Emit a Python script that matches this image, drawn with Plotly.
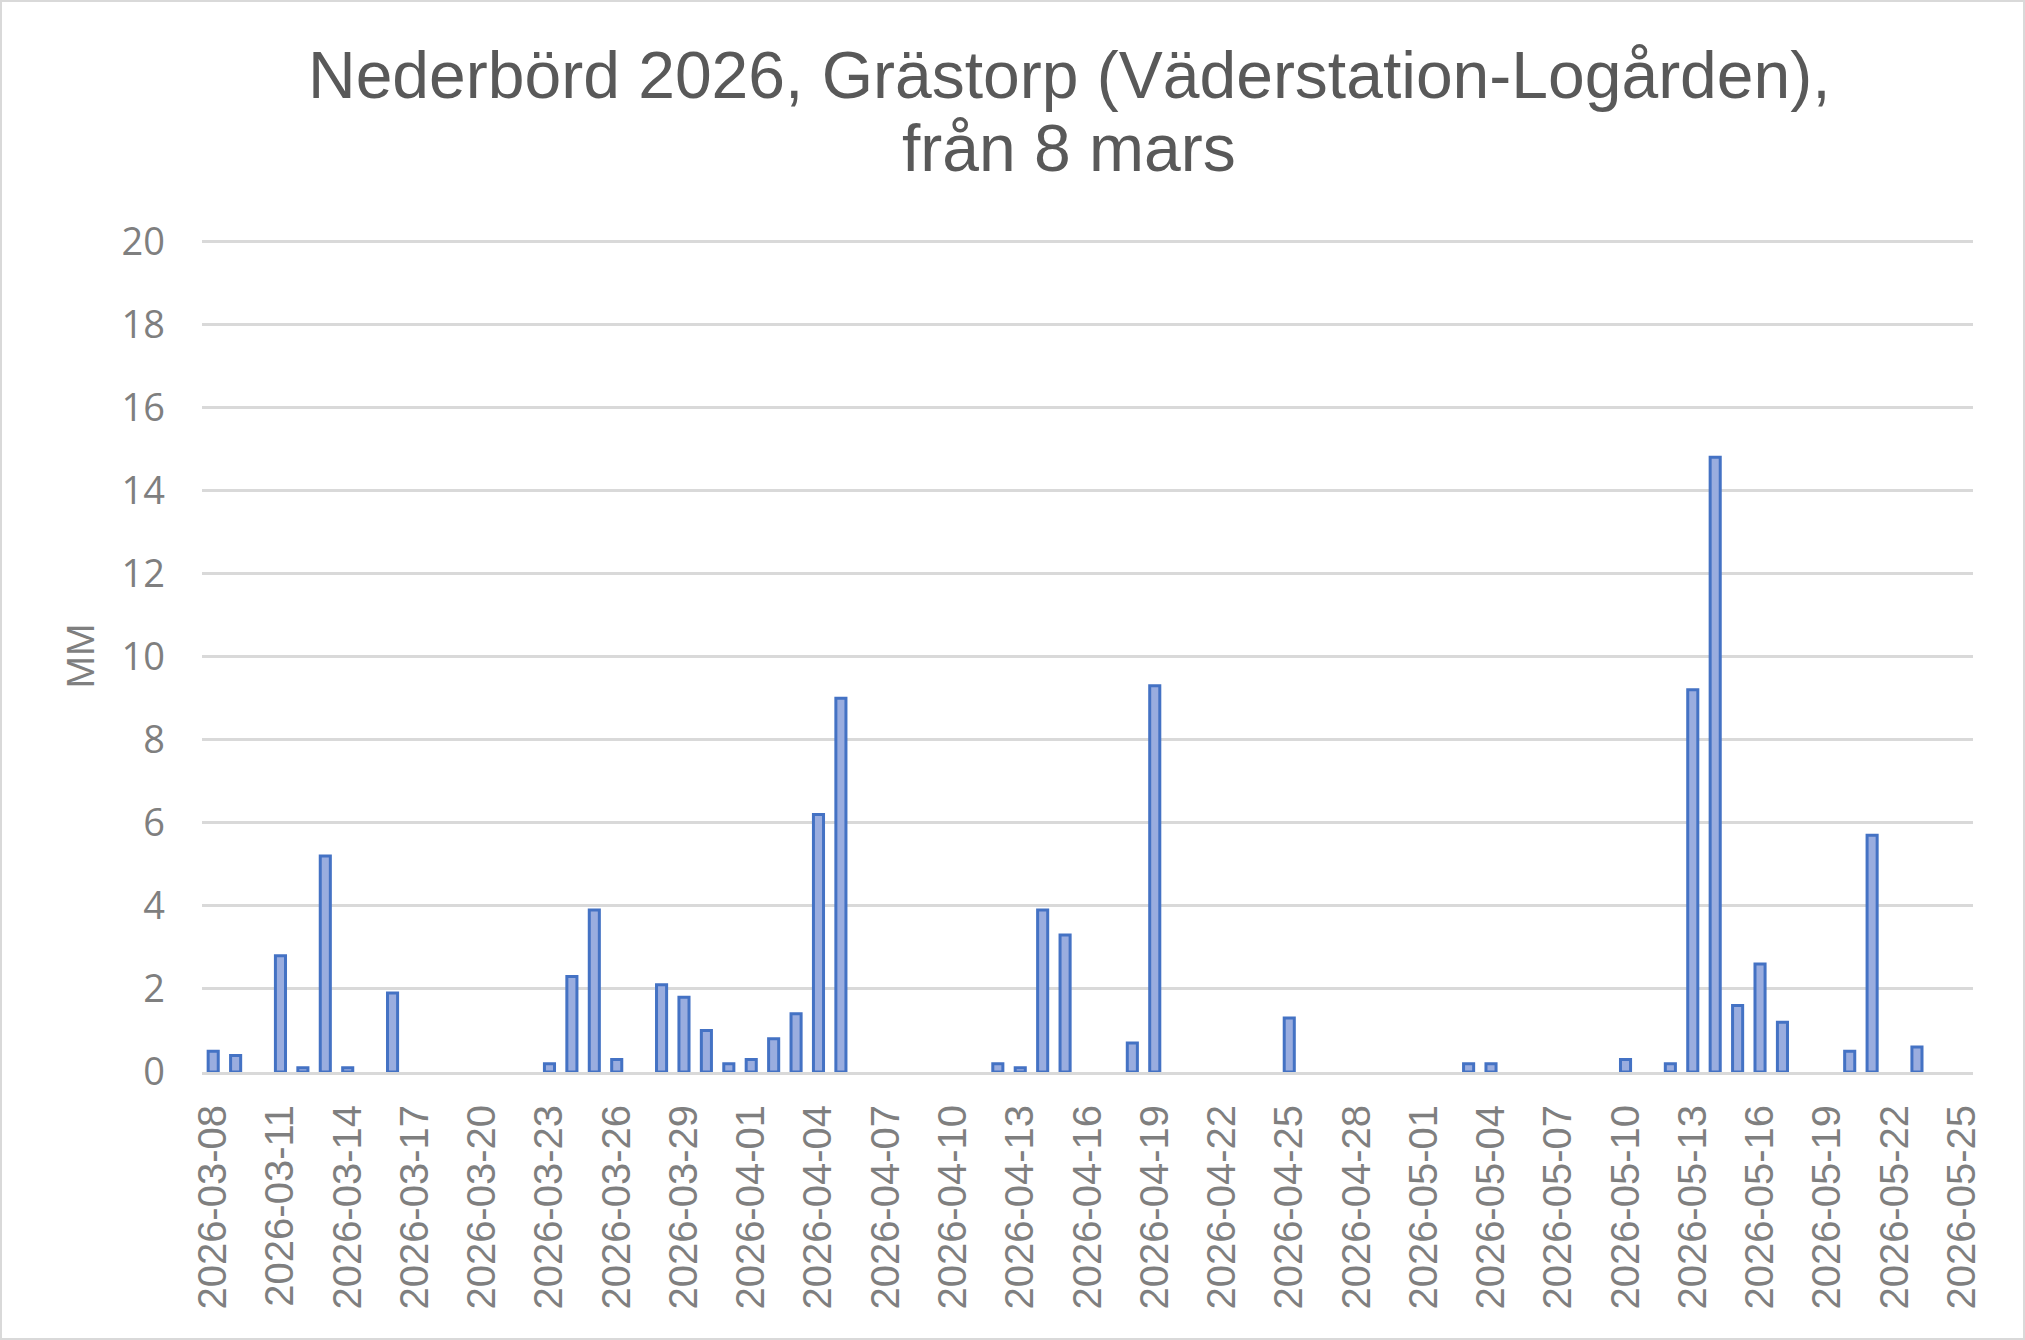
import plotly.graph_objects as go

# daily precipitation (days with no rain are left out)
dates = [
    "2026-03-08", "2026-03-09", "2026-03-11", "2026-03-12", "2026-03-13",
    "2026-03-14", "2026-03-16", "2026-03-23", "2026-03-24", "2026-03-25",
    "2026-03-26", "2026-03-28", "2026-03-29", "2026-03-30", "2026-03-31",
    "2026-04-01", "2026-04-02", "2026-04-03", "2026-04-04", "2026-04-05",
    "2026-04-12", "2026-04-13", "2026-04-14", "2026-04-15", "2026-04-18",
    "2026-04-19", "2026-04-25", "2026-05-03", "2026-05-04", "2026-05-10",
    "2026-05-12", "2026-05-13", "2026-05-14", "2026-05-15", "2026-05-16",
    "2026-05-17", "2026-05-20", "2026-05-21", "2026-05-23",
]
mm = [
    0.5, 0.4, 2.8, 0.1, 5.2,
    0.1, 1.9, 0.2, 2.3, 3.9,
    0.3, 2.1, 1.8, 1.0, 0.2,
    0.3, 0.8, 1.4, 6.2, 9.0,
    0.2, 0.1, 3.9, 3.3, 0.7,
    9.3, 1.3, 0.2, 0.2, 0.3,
    0.2, 9.2, 14.8, 1.6, 2.6,
    1.2, 0.5, 5.7, 0.6,
]

# x tick labels, every third day
tick_dates = [
    "2026-03-08", "2026-03-11", "2026-03-14", "2026-03-17", "2026-03-20",
    "2026-03-23", "2026-03-26", "2026-03-29", "2026-04-01", "2026-04-04",
    "2026-04-07", "2026-04-10", "2026-04-13", "2026-04-16", "2026-04-19",
    "2026-04-22", "2026-04-25", "2026-04-28", "2026-05-01", "2026-05-04",
    "2026-05-07", "2026-05-10", "2026-05-13", "2026-05-16", "2026-05-19",
    "2026-05-22", "2026-05-25",
]
y_ticks = [0, 2, 4, 6, 8, 10, 12, 14, 16, 18, 20]

title_lines = ["Nederbörd 2026, Grästorp (Väderstation-Logården),", "från 8 mars"]

W, H = 2025, 1340
ml, mr, mt, mb = 202, 52, 240, 268
pw, ph = W - ml - mr, H - mt - mb

fig = go.Figure(go.Bar(
    x=dates, y=mm,
    width=0.45 * 86400000,
    marker=dict(color="#9aaddf", line=dict(color="#4472c4", width=3)),
))

# two title lines placed separately (tight Excel-like line spacing)
for line, y_px in zip(title_lines, [75, 148]):
    fig.add_annotation(
        text=line, showarrow=False,
        xref="paper", yref="paper",
        x=(1069 - ml) / pw, y=1 + (mt - y_px) / ph,
        xanchor="center", yanchor="middle",
        font=dict(family="Liberation Sans, Arial", size=66, color="#595959"),
    )

fig.update_layout(
    width=W, height=H,
    margin=dict(l=ml, r=mr, t=mt, b=mb),
    paper_bgcolor="white", plot_bgcolor="white",
    showlegend=False,
    shapes=[dict(
        type="rect", xref="paper", yref="paper",
        x0=(1 - ml) / pw, x1=(W - 1 - ml) / pw,
        y0=-(mb - 1) / ph, y1=1 + (mt - 1) / ph,
        line=dict(color="#d9d9d9", width=2),
    )],
)

fig.update_xaxes(
    type="date",
    range=["2026-03-07 12:00", "2026-05-25 12:00"],
    tickvals=tick_dates, tickformat="%Y-%m-%d", tickangle=-90,
    tickfont=dict(family="Liberation Sans, Arial", size=40, color="#7f7f7f"),
    ticks="", ticklabelstandoff=14,
    showgrid=False, showline=True, linecolor="#d9d9d9", linewidth=3,
    zeroline=False,
)
fig.update_yaxes(
    range=[0, 20.03], tickvals=y_ticks,
    tickfont=dict(family="Open Sans", size=38, color="#7f7f7f"),
    ticklabelstandoff=36,
    showgrid=True, gridcolor="#d9d9d9", gridwidth=2.5,
    zeroline=False, showline=False,
    title=dict(text="MM", standoff=14,
               font=dict(family="Liberation Sans, Arial", size=39, color="#7f7f7f")),
)

fig.write_html("out.html", config={"displayModeBar": False},
               post_script="document.body.style.margin='0';")
